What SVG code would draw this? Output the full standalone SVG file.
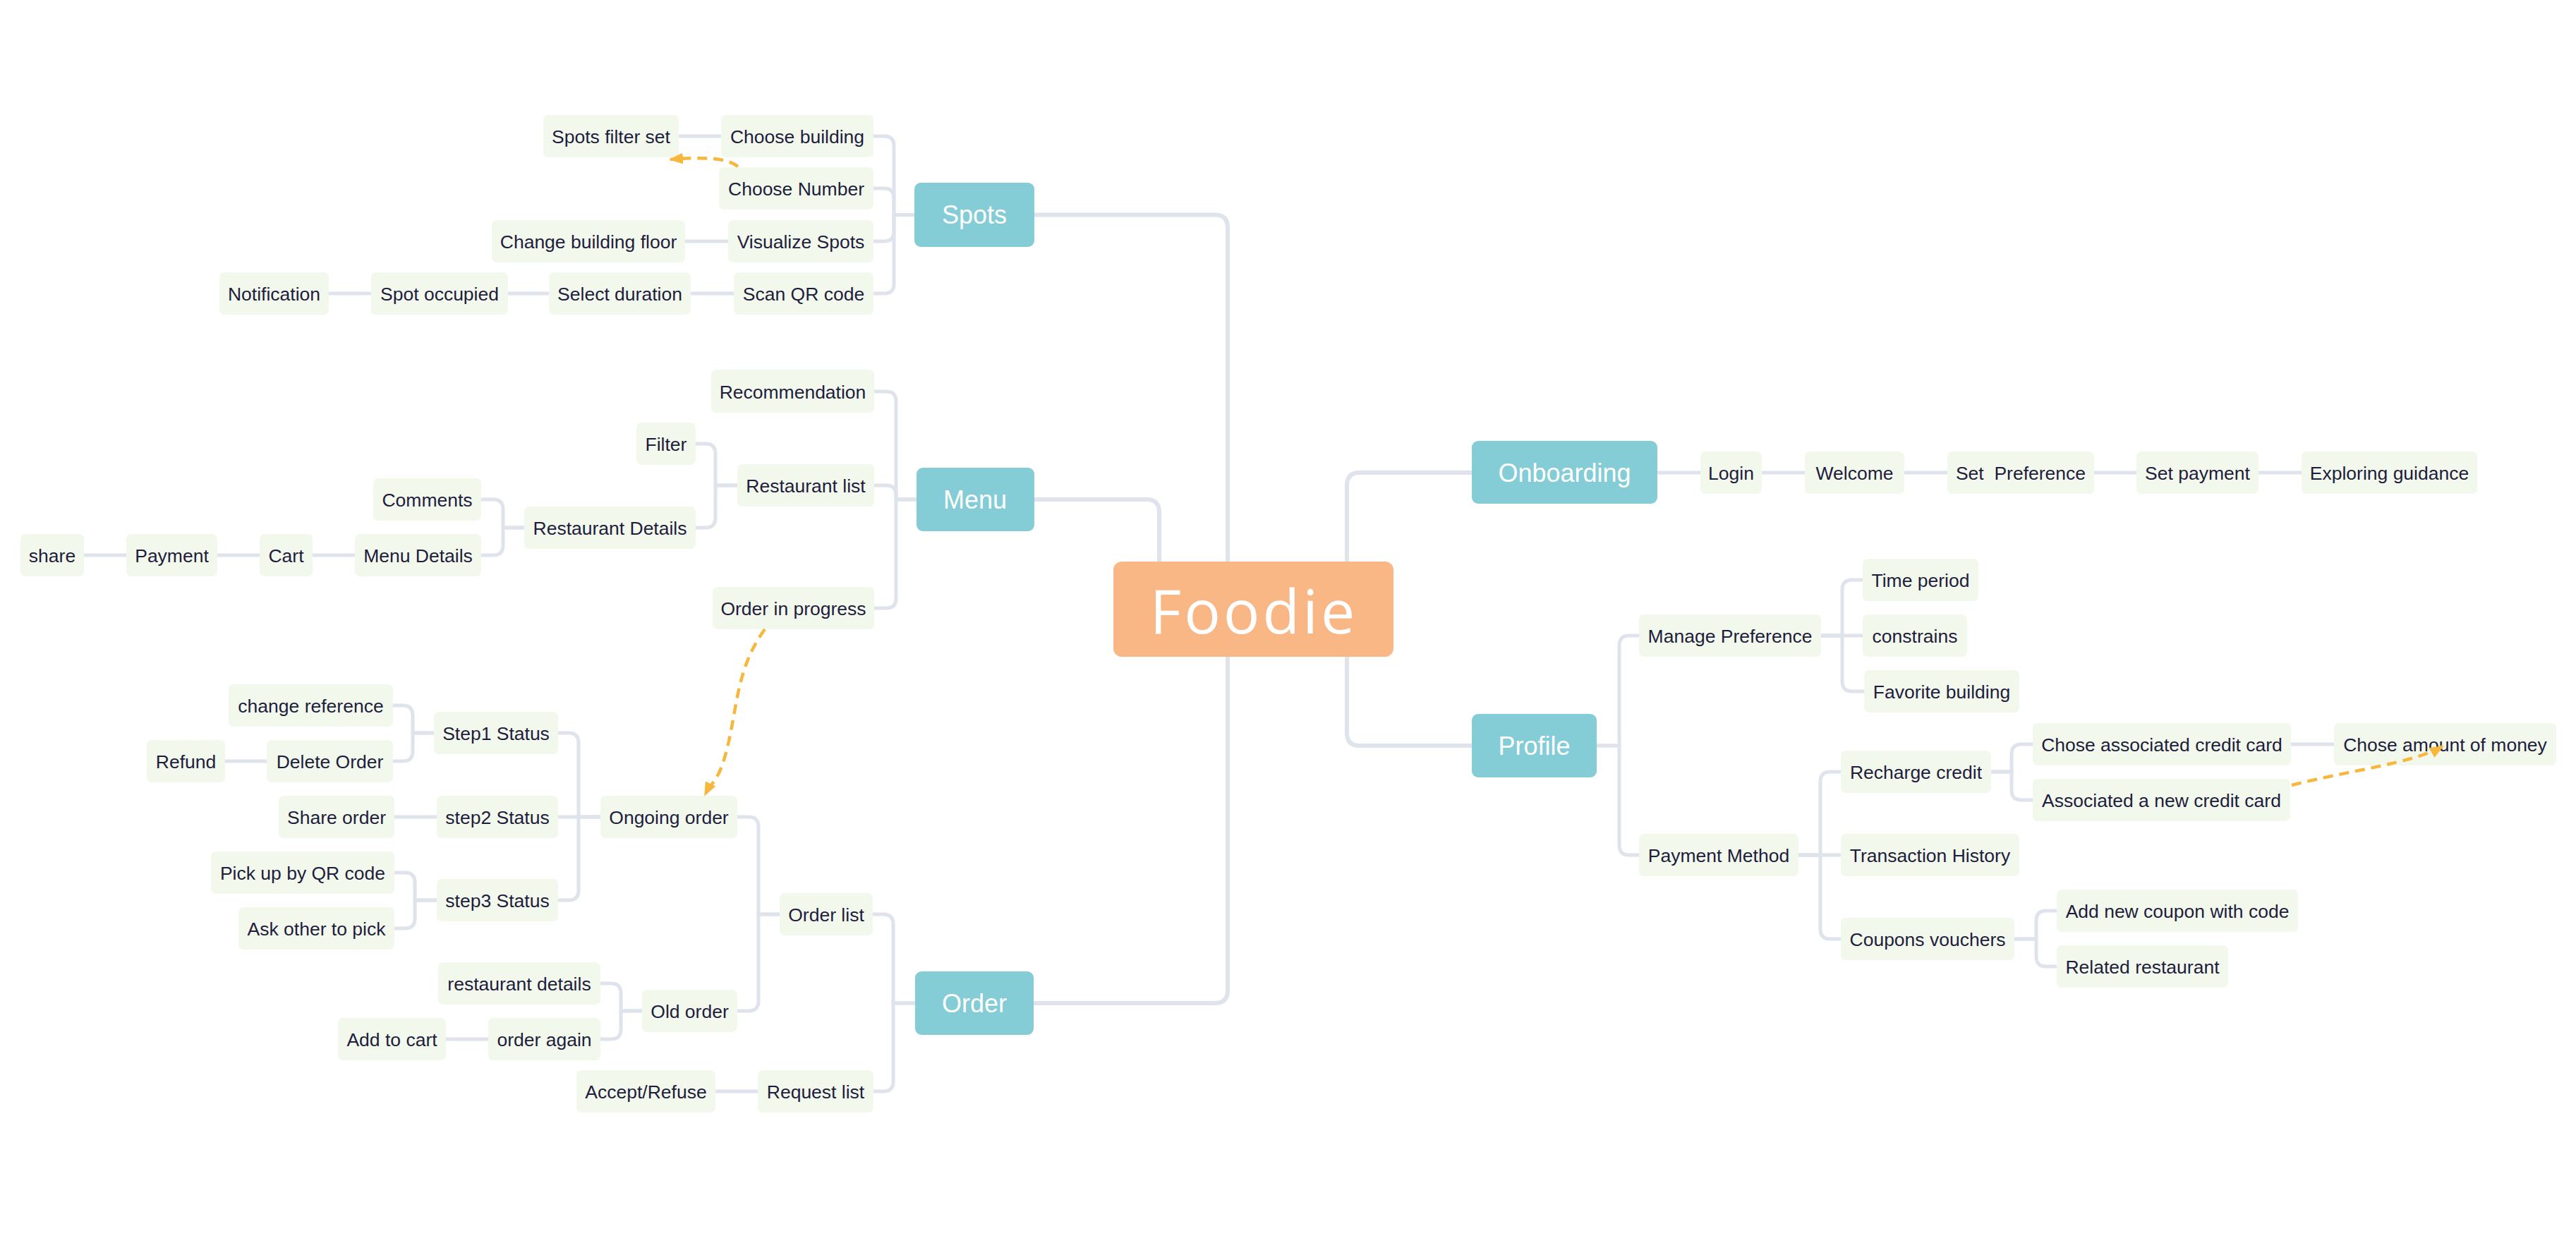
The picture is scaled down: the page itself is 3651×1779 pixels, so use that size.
<svg xmlns="http://www.w3.org/2000/svg" width="3651" height="1779" viewBox="0 0 3651 1779">
<style>
.bg{fill:#ffffff}
.n rect{fill:#F3F8EC}
.n text{font-family:"Liberation Sans",Arial,sans-serif;font-size:26.5px;fill:#1E1D3E;text-anchor:middle}
.t rect{fill:#84CDD6}
.t text{font-family:"Liberation Sans",Arial,sans-serif;font-size:36px;fill:#ffffff;text-anchor:middle}
.root rect{fill:#FAB786}
.root text{font-family:"Open Sans","Noto Sans",sans-serif;font-size:86px;fill:#ffffff;text-anchor:middle;letter-spacing:4px}
.main path{fill:none;stroke:#DFE3EC;stroke-width:6}
.sub path{fill:none;stroke:#DFE3EC;stroke-width:5}
.rel path{fill:none;stroke:#F6B73C;stroke-width:4.5;stroke-dasharray:14 9}
</style>
<defs>
<marker id="ah" markerUnits="userSpaceOnUse" markerWidth="20" markerHeight="16" refX="18" refY="8" orient="auto">
<path d="M0,0 L20,8 L0,16 Z" fill="#F6B73C"/>
</marker>
</defs>
<rect class="bg" x="0" y="0" width="3651" height="1779"/>

<g id="connectors">
<g class="main">
<path d="M1466,304.5 H1722 Q1740,304.5 1740,322.5 V796"/>
<path d="M1466,708 H1625 Q1643,708 1643,726 V796"/>
<path d="M1465,1422 H1722 Q1740,1422 1740,1404 V931"/>
<path d="M2086,670 H1927 Q1909,670 1909,688 V796"/>
<path d="M2086,1057 H1927 Q1909,1057 1909,1039 V931"/>
</g>
<g class="sub">
<path d="M1238,193 H1253 Q1267,193 1267,207 V304.5 H1296"/>
<path d="M1238,267 H1253 Q1267,267 1267,281 V304.5 H1296"/>
<path d="M1238,342 H1253 Q1267,342 1267,328 V304.5 H1296"/>
<path d="M1238,416 H1253 Q1267,416 1267,402 V304.5 H1296"/>
<path d="M962,193 H1022"/>
<path d="M971,342 H1032"/>
<path d="M979,416 H1040"/>
<path d="M720,416 H778"/>
<path d="M466,416 H526"/>

<path d="M1239,555 H1256 Q1270,555 1270,569 V708 H1299"/>
<path d="M1239,688 H1256 Q1270,688 1270,702 V708 H1299"/>
<path d="M1239,862 H1256 Q1270,862 1270,848 V708 H1299"/>
<path d="M986,629 H1000 Q1014,629 1014,643 V688 H1045"/>
<path d="M986,748 H1000 Q1014,748 1014,734 V688 H1045"/>
<path d="M682,708 H699 Q713,708 713,722 V748 H743"/>
<path d="M682,787 H699 Q713,787 713,773 V748 H743"/>
<path d="M443,787 H503"/>
<path d="M308,787 H368"/>
<path d="M119,787 H179"/>

<path d="M1237,1296 H1252 Q1266,1296 1266,1310 V1422 H1297"/>
<path d="M1238,1547 H1252 Q1266,1547 1266,1533 V1422 H1297"/>
<path d="M1045,1158 H1061 Q1075,1158 1075,1172 V1296 H1105"/>
<path d="M1045,1433 H1061 Q1075,1433 1075,1419 V1296 H1105"/>
<path d="M791,1039 H806 Q820,1039 820,1053 V1158 H851"/>
<path d="M791,1158 H851"/>
<path d="M791,1276 H806 Q820,1276 820,1262 V1158 H851"/>
<path d="M557,1000 H571 Q585,1000 585,1014 V1039 H615"/>
<path d="M557,1079 H571 Q585,1079 585,1065 V1039 H615"/>
<path d="M559,1237 H574 Q588,1237 588,1251 V1276 H619"/>
<path d="M559,1316 H574 Q588,1316 588,1302 V1276 H619"/>
<path d="M851,1394 H866 Q880,1394 880,1408 V1433 H910"/>
<path d="M851,1473 H866 Q880,1473 880,1459 V1433 H910"/>
<path d="M319,1079 H378"/>
<path d="M559,1158 H619"/>
<path d="M632,1473 H692"/>
<path d="M1014,1547 H1074"/>

<path d="M2349,670 H2410"/>
<path d="M2497,670 H2558"/>
<path d="M2699,670 H2760"/>
<path d="M2968,670 H3028"/>
<path d="M3201,670 H3262"/>

<path d="M2323,901 H2309 Q2295,901 2295,915 V1057 H2263"/>
<path d="M2323,1212 H2309 Q2295,1212 2295,1198 V1057 H2263"/>
<path d="M2640,822 H2625 Q2611,822 2611,836 V901 H2581"/>
<path d="M2640,901 H2581"/>
<path d="M2642,980 H2625 Q2611,980 2611,966 V901 H2581"/>
<path d="M2609,1094 H2594 Q2580,1094 2580,1108 V1212 H2549"/>
<path d="M2609,1212 H2549"/>
<path d="M2609,1331 H2594 Q2580,1331 2580,1317 V1212 H2549"/>
<path d="M2881,1055 H2865 Q2851,1055 2851,1069 V1094 H2822"/>
<path d="M2881,1134 H2865 Q2851,1134 2851,1120 V1094 H2822"/>
<path d="M2915,1291 H2900 Q2886,1291 2886,1305 V1331 H2855"/>
<path d="M2915,1370 H2900 Q2886,1370 2886,1356 V1331 H2855"/>
<path d="M3247,1055 H3308"/>
</g>
</g>

<g id="root" class="root"><rect x="1578" y="796" width="397" height="135" rx="12"/><text x="1777" y="898">Foodie</text></g>

<g id="spots" class="t"><rect x="1296" y="259" width="170" height="91" rx="9"/><text x="1381" y="317">Spots</text></g>
<g id="menu" class="t"><rect x="1299" y="663" width="167" height="90" rx="9"/><text x="1382" y="721">Menu</text></g>
<g id="order" class="t"><rect x="1297" y="1377" width="168" height="90" rx="9"/><text x="1381" y="1435">Order</text></g>
<g id="onboarding" class="t"><rect x="2086" y="625" width="263" height="89" rx="9"/><text x="2217.5" y="683">Onboarding</text></g>
<g id="profile" class="t"><rect x="2086" y="1012" width="177" height="90" rx="9"/><text x="2174.5" y="1070">Profile</text></g>

<g id="choose-building" class="n"><rect x="1022" y="163" width="216" height="60" rx="7"/><text x="1130" y="202.5">Choose building</text></g>
<g id="spots-filter-set" class="n"><rect x="770" y="163" width="192" height="60" rx="7"/><text x="866" y="202.5">Spots filter set</text></g>
<g id="choose-number" class="n"><rect x="1019" y="237" width="219" height="60" rx="7"/><text x="1128.5" y="276.5">Choose Number</text></g>
<g id="visualize-spots" class="n"><rect x="1032" y="312" width="206" height="60" rx="7"/><text x="1135" y="351.5">Visualize Spots</text></g>
<g id="change-building-floor" class="n"><rect x="697" y="312" width="274" height="60" rx="7"/><text x="834" y="351.5">Change building floor</text></g>
<g id="scan-qr-code" class="n"><rect x="1040" y="386" width="198" height="60" rx="7"/><text x="1139" y="425.5">Scan QR code</text></g>
<g id="select-duration" class="n"><rect x="778" y="386" width="201" height="60" rx="7"/><text x="878.5" y="425.5">Select duration</text></g>
<g id="spot-occupied" class="n"><rect x="526" y="386" width="194" height="60" rx="7"/><text x="623" y="425.5">Spot occupied</text></g>
<g id="notification" class="n"><rect x="311" y="386" width="155" height="60" rx="7"/><text x="388.5" y="425.5">Notification</text></g>

<g id="recommendation" class="n"><rect x="1008" y="524" width="231" height="61" rx="7"/><text x="1123.5" y="564.5">Recommendation</text></g>
<g id="restaurant-list" class="n"><rect x="1045" y="658" width="194" height="60" rx="7"/><text x="1142" y="697.5">Restaurant list</text></g>
<g id="order-in-progress" class="n"><rect x="1010" y="832" width="229" height="60" rx="7"/><text x="1124.5" y="871.5">Order in progress</text></g>
<g id="filter" class="n"><rect x="902" y="599" width="84" height="60" rx="7"/><text x="944" y="638.5">Filter</text></g>
<g id="restaurant-details" class="n"><rect x="743" y="718" width="243" height="60" rx="7"/><text x="864.5" y="757.5">Restaurant Details</text></g>
<g id="comments" class="n"><rect x="529" y="678" width="153" height="60" rx="7"/><text x="605.5" y="717.5">Comments</text></g>
<g id="menu-details" class="n"><rect x="503" y="757" width="179" height="60" rx="7"/><text x="592.5" y="796.5">Menu Details</text></g>
<g id="cart" class="n"><rect x="368" y="757" width="75" height="60" rx="7"/><text x="405.5" y="796.5">Cart</text></g>
<g id="payment" class="n"><rect x="179" y="757" width="129" height="60" rx="7"/><text x="243.5" y="796.5">Payment</text></g>
<g id="share" class="n"><rect x="29" y="757" width="90" height="60" rx="7"/><text x="74" y="796.5">share</text></g>

<g id="order-list" class="n"><rect x="1105" y="1266" width="132" height="60" rx="7"/><text x="1171" y="1305.5">Order list</text></g>
<g id="request-list" class="n"><rect x="1074" y="1517" width="164" height="60" rx="7"/><text x="1156" y="1556.5">Request list</text></g>
<g id="accept-refuse" class="n"><rect x="817" y="1517" width="197" height="60" rx="7"/><text x="915.5" y="1556.5">Accept/Refuse</text></g>
<g id="ongoing-order" class="n"><rect x="851" y="1128" width="194" height="60" rx="7"/><text x="948" y="1167.5">Ongoing order</text></g>
<g id="old-order" class="n"><rect x="910" y="1403" width="135" height="60" rx="7"/><text x="977.5" y="1442.5">Old order</text></g>
<g id="step1-status" class="n"><rect x="615" y="1009" width="176" height="60" rx="7"/><text x="703" y="1048.5">Step1 Status</text></g>
<g id="step2-status" class="n"><rect x="619" y="1128" width="172" height="60" rx="7"/><text x="705" y="1167.5">step2 Status</text></g>
<g id="step3-status" class="n"><rect x="619" y="1246" width="172" height="60" rx="7"/><text x="705" y="1285.5">step3 Status</text></g>
<g id="change-reference" class="n"><rect x="324" y="970" width="233" height="60" rx="7"/><text x="440.5" y="1009.5">change reference</text></g>
<g id="delete-order" class="n"><rect x="378" y="1049" width="179" height="60" rx="7"/><text x="467.5" y="1088.5">Delete Order</text></g>
<g id="refund" class="n"><rect x="208" y="1049" width="111" height="60" rx="7"/><text x="263.5" y="1088.5">Refund</text></g>
<g id="share-order" class="n"><rect x="395" y="1128" width="164" height="60" rx="7"/><text x="477" y="1167.5">Share order</text></g>
<g id="pick-up-by-qr-code" class="n"><rect x="299" y="1207" width="260" height="60" rx="7"/><text x="429" y="1246.5">Pick up by QR code</text></g>
<g id="ask-other-to-pick" class="n"><rect x="338" y="1286" width="221" height="60" rx="7"/><text x="448.5" y="1325.5">Ask other to pick</text></g>
<g id="restaurant-details-old" class="n"><rect x="621" y="1364" width="230" height="60" rx="7"/><text x="736" y="1403.5">restaurant details</text></g>
<g id="order-again" class="n"><rect x="692" y="1443" width="159" height="60" rx="7"/><text x="771.5" y="1482.5">order again</text></g>
<g id="add-to-cart" class="n"><rect x="479" y="1443" width="153" height="60" rx="7"/><text x="555.5" y="1482.5">Add to cart</text></g>

<g id="login" class="n"><rect x="2410" y="640" width="87" height="60" rx="7"/><text x="2453.5" y="679.5">Login</text></g>
<g id="welcome" class="n"><rect x="2558" y="640" width="141" height="60" rx="7"/><text x="2628.5" y="679.5">Welcome</text></g>
<g id="set-preference" class="n"><rect x="2760" y="640" width="208" height="60" rx="7"/><text x="2864" y="679.5" xml:space="preserve">Set  Preference</text></g>
<g id="set-payment" class="n"><rect x="3028" y="640" width="173" height="60" rx="7"/><text x="3114.5" y="679.5">Set payment</text></g>
<g id="exploring-guidance" class="n"><rect x="3262" y="640" width="249" height="60" rx="7"/><text x="3386.5" y="679.5">Exploring guidance</text></g>

<g id="manage-preference" class="n"><rect x="2323" y="871" width="258" height="60" rx="7"/><text x="2452" y="910.5">Manage Preference</text></g>
<g id="time-period" class="n"><rect x="2640" y="792" width="164" height="60" rx="7"/><text x="2722" y="831.5">Time period</text></g>
<g id="constrains" class="n"><rect x="2640" y="871" width="148" height="60" rx="7"/><text x="2714" y="910.5">constrains</text></g>
<g id="favorite-building" class="n"><rect x="2642" y="950" width="220" height="60" rx="7"/><text x="2752" y="989.5">Favorite building</text></g>
<g id="payment-method" class="n"><rect x="2323" y="1182" width="226" height="60" rx="7"/><text x="2436" y="1221.5">Payment Method</text></g>
<g id="recharge-credit" class="n"><rect x="2609" y="1064" width="213" height="60" rx="7"/><text x="2715.5" y="1103.5">Recharge credit</text></g>
<g id="transaction-history" class="n"><rect x="2609" y="1182" width="253" height="60" rx="7"/><text x="2735.5" y="1221.5">Transaction History</text></g>
<g id="coupons-vouchers" class="n"><rect x="2609" y="1301" width="246" height="60" rx="7"/><text x="2732" y="1340.5">Coupons vouchers</text></g>
<g id="chose-associated-credit-card" class="n"><rect x="2881" y="1025" width="366" height="60" rx="7"/><text x="3064" y="1064.5">Chose associated credit card</text></g>
<g id="associated-new-credit-card" class="n"><rect x="2881" y="1104" width="365" height="60" rx="7"/><text x="3063.5" y="1143.5">Associated a new credit card</text></g>
<g id="chose-amount-of-money" class="n"><rect x="3308" y="1025" width="315" height="60" rx="7"/><text x="3465.5" y="1064.5">Chose amount of money</text></g>
<g id="add-new-coupon" class="n"><rect x="2915" y="1261" width="342" height="60" rx="7"/><text x="3086" y="1300.5">Add new coupon with code</text></g>
<g id="related-restaurant" class="n"><rect x="2915" y="1340" width="243" height="60" rx="7"/><text x="3036.5" y="1379.5">Related restaurant</text></g>

<g id="relations" class="rel">
<path d="M1046,236 C1030,224 1000,222 950,226" marker-end="url(#ah)"/>
<path d="M1084,892 C1045,945 1045,1000 1032,1055 S1010,1105 999,1127" marker-end="url(#ah)"/>
<path d="M3248,1113 C3330,1092 3420,1082 3462,1058" marker-end="url(#ah)"/>
</g>
</svg>
